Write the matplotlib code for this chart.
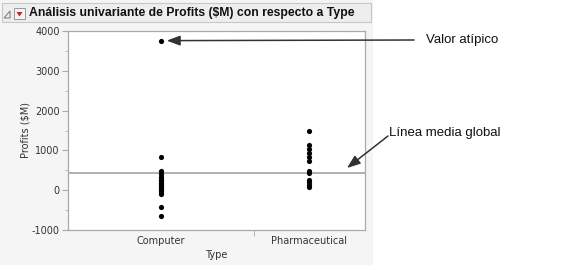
import matplotlib
matplotlib.use("Agg")
import matplotlib.pyplot as plt
from matplotlib.patches import Rectangle, Polygon
from matplotlib.ticker import MultipleLocator
import numpy as np

plt.rcParams["axes.unicode_minus"] = False

# Data (Profits $M by Type)
categories = ["Computer", "Pharmaceutical"]
computer = [3758, 842, 470, 400, 330, 300, 250, 220, 180, 150, 120, 90,
            60, 30, 10, -20, -60, -105, -415, -657]
pharma = [1500, 1130, 1040, 940, 830, 730, 470, 440, 250, 200, 140, 80]
y_ticks = [-1000, 0, 1000, 2000, 3000, 4000]

title = "Análisis univariante de Profits ($M) con respecto a Type"

W, H = 569, 270
fig = plt.figure(figsize=(W / 100, H / 100), dpi=100)
fig.patch.set_facecolor("white")

def px(x, y):
    # pixel (from top-left) -> figure fraction
    return x / W, 1 - y / H

# gray report panel
fig.patches.append(Rectangle(px(0, 265), 373 / W, 265 / H, transform=fig.transFigure,
                             facecolor="#f5f5f5", edgecolor="none", zorder=0))
# header bar
fig.patches.append(Rectangle(px(2, 22), 369 / W, 19 / H, transform=fig.transFigure,
                             facecolor="#eeeeee", edgecolor="#c8c8c8", lw=0.8, zorder=1))
# disclosure triangle
fig.patches.append(Polygon([px(4, 18), px(10, 18), px(10, 11)], closed=True,
                           transform=fig.transFigure, facecolor="none",
                           edgecolor="#777777", lw=0.7, zorder=2))
# red popup icon
fig.patches.append(Rectangle(px(14, 19), 11 / W, 11 / H, transform=fig.transFigure,
                             facecolor="#f4f4f4", edgecolor="#999999", lw=0.7, zorder=2))
fig.patches.append(Polygon([px(16.5, 12), px(22.5, 12), px(19.5, 16.5)], closed=True,
                           transform=fig.transFigure, facecolor="#d0201f",
                           edgecolor="none", zorder=3))
fig.text(*px(29, 13), title, fontsize=8.8, fontweight="bold",
         family=["Liberation Sans", "DejaVu Sans"], va="center", ha="left", color="#111111")

l, b = px(68, 230)
r, t = px(365, 31)
ax = fig.add_axes([l, b, r - l, t - b])
ax.set_zorder(5)
ax.set_facecolor("white")

# category widths proportional to counts
counts = np.array([len(computer), len(pharma)])
edges = np.concatenate([[0], np.cumsum(counts) / counts.sum()])
centers = (edges[:-1] + edges[1:]) / 2

for c, vals in zip(centers, [computer, pharma]):
    ax.scatter(np.full(len(vals), c), vals, s=14, color="black", zorder=3, linewidths=0)

grand_mean = np.mean(computer + pharma)
ax.axhline(grand_mean, color="#aaaaaa", lw=1.3, zorder=2)

ax.set_xlim(0, 1)
ax.set_ylim(-1000, 4000)
ax.set_yticks(y_ticks)
ax.yaxis.set_minor_locator(MultipleLocator(500))
ax.set_xticks(centers)
ax.set_xticklabels(categories)
ax.set_xticks(edges[1:-1], minor=True)
ax.tick_params(axis="x", which="major", length=0, pad=4, labelsize=7, labelcolor="#333333")
ax.tick_params(axis="x", which="minor", length=4, color="#aaaaaa", direction="out")
ax.tick_params(axis="y", which="major", length=4, color="#aaaaaa", labelsize=7,
               labelcolor="#333333", pad=2)
ax.tick_params(axis="y", which="minor", length=2.5, color="#aaaaaa")
for s in ax.spines.values():
    s.set_color("#aaaaaa")
    s.set_linewidth(0.9)

ax.set_ylabel("Profits ($M)", fontsize=7, color="#333333", labelpad=1)
ax.set_xlabel("Type", fontsize=7, color="#333333", labelpad=3)

# annotations
fs = 9.5
arrow = dict(arrowstyle="-|>,head_length=0.8,head_width=0.3",
             color="#333333", lw=1.1, shrinkA=0, shrinkB=0)
fig.text(*px(426, 40), "Valor atípico", fontsize=fs, family="Liberation Sans",
         va="center", ha="left", color="#111111")
ax.annotate("", xy=(centers[0] + 0.02, max(computer)), xycoords="data",
            xytext=px(414, 40), textcoords="figure fraction",
            arrowprops=arrow, annotation_clip=False)
fig.text(*px(389, 133), "Línea media global", fontsize=fs, family="Liberation Sans",
         va="center", ha="left", color="#111111")
ax.annotate("", xy=px(347, 168), xycoords="figure fraction",
            xytext=px(388, 136), textcoords="figure fraction",
            arrowprops=arrow, annotation_clip=False)

fig.savefig("out.png", dpi=100)
